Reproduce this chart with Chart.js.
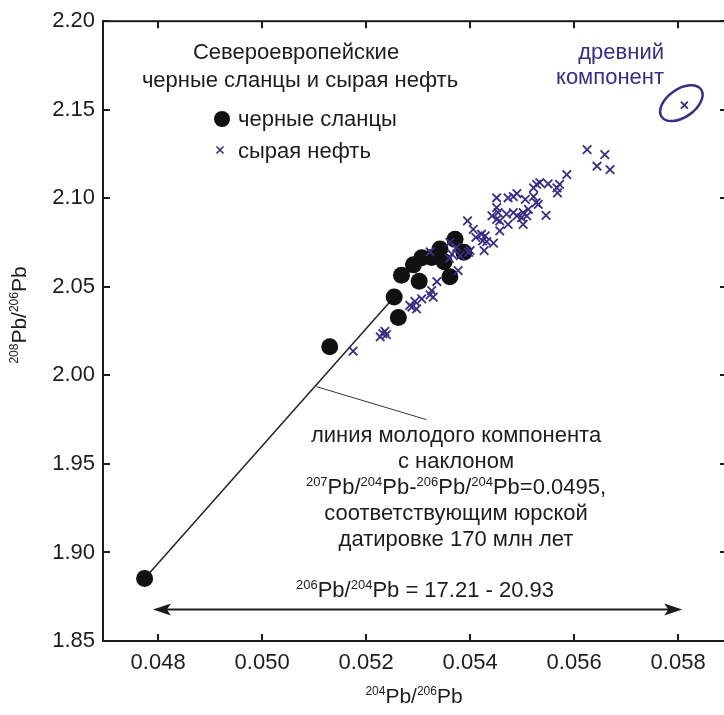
<!DOCTYPE html>
<html lang="ru">
<head>
<meta charset="UTF-8">
<title>208Pb/206Pb - 204Pb/206Pb</title>
<script src="https://cdn.jsdelivr.net/npm/chart.js"></script>
<style>
  html, body { margin: 0; padding: 0; background: #fff; overflow: hidden; }
  #wrap { width: 740px; height: 715px; }
</style>
</head>
<body>
<div id="wrap"><canvas id="pbChart" width="740" height="715"></canvas></div>
<script>
// черные сланцы: 204Pb/206Pb и 208Pb/206Pb
const shaleX = [0.04774, 0.05130, 0.05254, 0.05262, 0.05268, 0.05302, 0.05291, 0.05307,
                0.05326, 0.05342, 0.05350, 0.05361, 0.05371, 0.05388];
const shaleY = [1.8853, 2.0161, 2.0442, 2.0327, 2.0565, 2.0532, 2.0624, 2.0664,
                2.0666, 2.0714, 2.0641, 2.0557, 2.0768, 2.0695];

// сырая нефть
const oilX = [0.05586, 0.05534, 0.05550, 0.05522, 0.05528, 0.05572, 0.05567, 0.05568,
              0.05451, 0.05473, 0.05483, 0.05490, 0.05506, 0.05522, 0.05527, 0.05531,
              0.05451, 0.05442, 0.05451, 0.05457, 0.05454, 0.05470, 0.05483, 0.05473,
              0.05490, 0.05502, 0.05509, 0.05499, 0.05502, 0.05512, 0.05546, 0.05457,
              0.05395, 0.05406, 0.05411, 0.05422, 0.05429, 0.05424, 0.05432, 0.05445,
              0.05427, 0.05397, 0.05400, 0.05361, 0.05374, 0.05365, 0.05323, 0.05360,
              0.05381, 0.05377, 0.05336, 0.05326, 0.05323, 0.05329, 0.05307, 0.05294,
              0.05284, 0.05297, 0.05288, 0.05236, 0.05239, 0.05227, 0.05232, 0.05175,
              0.05625, 0.05659, 0.05644, 0.05669];
const oilY = [2.1134, 2.1088, 2.1082, 2.1059, 2.1078, 2.1078, 2.1059, 2.1031,
              2.1003, 2.1003, 2.1009, 2.1027, 2.0994, 2.1009, 2.0975, 2.0966,
              2.0947, 2.0901, 2.0881, 2.0872, 2.0919, 2.0910, 2.0919, 2.0853,
              2.0901, 2.0919, 2.0901, 2.0891, 2.0853, 2.0938, 2.0904, 2.0816,
              2.0872, 2.0825, 2.0779, 2.0797, 2.0788, 2.0760, 2.0755, 2.0747,
              2.0704, 2.0695, 2.0704, 2.0751, 2.0723, 2.0685, 2.0698, 2.0661,
              2.0676, 2.0592, 2.0530, 2.0479, 2.0455, 2.0442, 2.0432, 2.0418,
              2.0395, 2.0376, 2.0386, 2.0249, 2.0230, 2.0217, 2.0236, 2.0137,
              2.1275, 2.1246, 2.1181, 2.1162];

// древний компонент
const oldX = [0.05812];
const oldY = [2.1526];

// линия молодого компонента (от нижнего сланца)
const youngX = [0.04774, 0.05254];
const youngY = [1.8853, 2.0442];

const xTicks = [0.048, 0.050, 0.052, 0.054, 0.056, 0.058];
const yTicks = [1.85, 1.90, 1.95, 2.00, 2.05, 2.10, 2.15, 2.20];
const seriesNames = ['черные сланцы', 'сырая нефть'];

const FONT = '"Liberation Sans", Arial, sans-serif';
const INK = '#1c1c1c';
const PURPLE = '#3b2c84';

function pts(xs, ys) { return xs.map((x, i) => ({ x: x, y: ys[i] })); }

// text with ^123 superscripts
function drawRich(ctx, str, x, y, size, align, color) {
  const parts = [];
  str.split(/(\^\d+)/).forEach(s => {
    if (!s) return;
    if (s[0] === '^') parts.push({ t: s.slice(1), sup: true });
    else parts.push({ t: s, sup: false });
  });
  const big = size + 'px ' + FONT;
  const small = Math.round(size * 0.58) + 'px ' + FONT;
  let w = 0;
  parts.forEach(p => { ctx.font = p.sup ? small : big; p.w = ctx.measureText(p.t).width; w += p.w; });
  let cx = align === 'center' ? x - w / 2 : (align === 'right' ? x - w : x);
  ctx.fillStyle = color;
  ctx.textAlign = 'left';
  ctx.textBaseline = 'middle';
  parts.forEach(p => {
    ctx.font = p.sup ? small : big;
    ctx.fillText(p.t, cx, p.sup ? y - size * 0.27 : y);
    cx += p.w;
  });
}

function drawCross(ctx, x, y, r, color, lw) {
  ctx.save();
  ctx.strokeStyle = color;
  ctx.lineWidth = lw;
  ctx.beginPath();
  ctx.moveTo(x - r, y - r); ctx.lineTo(x + r, y + r);
  ctx.moveTo(x - r, y + r); ctx.lineTo(x + r, y - r);
  ctx.stroke();
  ctx.restore();
}

const decorations = {
  id: 'decorations',
  afterDraw(chart) {
    const ctx = chart.ctx;
    const a = chart.chartArea;
    const sx = chart.scales.x, sy = chart.scales.y;
    ctx.save();

    // frame and inward ticks
    ctx.strokeStyle = INK;
    ctx.lineWidth = 2;
    ctx.strokeRect(a.left, a.top, a.right - a.left, a.bottom - a.top);
    ctx.beginPath();
    xTicks.forEach(v => {
      const px = Math.round(sx.getPixelForValue(v));
      ctx.moveTo(px, a.bottom); ctx.lineTo(px, a.bottom - 7);
      ctx.moveTo(px, a.top); ctx.lineTo(px, a.top + 7);
    });
    yTicks.forEach(v => {
      const py = Math.round(sy.getPixelForValue(v));
      ctx.moveTo(a.left, py); ctx.lineTo(a.left + 7, py);
      ctx.moveTo(a.right, py); ctx.lineTo(a.right - 7, py);
    });
    ctx.stroke();

    // legend
    drawRich(ctx, 'Североевропейские', 296, 53, 22, 'center', INK);
    drawRich(ctx, 'черные сланцы и сырая нефть', 300, 81, 22, 'center', INK);
    ctx.fillStyle = '#111';
    ctx.beginPath(); ctx.arc(222, 119, 8, 0, Math.PI * 2); ctx.fill();
    drawRich(ctx, seriesNames[0], 238, 120, 22, 'left', INK);
    drawCross(ctx, 220, 150, 3.5, PURPLE, 1.6);
    drawRich(ctx, seriesNames[1], 238, 152, 22, 'left', INK);

    // ancient component
    drawRich(ctx, 'древний', 664, 53, 22, 'right', PURPLE);
    drawRich(ctx, 'компонент', 664, 78, 22, 'right', PURPLE);
    const ox = sx.getPixelForValue(oldX[0]), oy = sy.getPixelForValue(oldY[0]);
    ctx.strokeStyle = PURPLE;
    ctx.lineWidth = 2.5;
    ctx.beginPath();
    ctx.ellipse(ox - 3, oy - 2, 24, 14, -35 * Math.PI / 180, 0, Math.PI * 2);
    ctx.stroke();

    // leader line to the young component line
    ctx.strokeStyle = '#333';
    ctx.lineWidth = 1;
    ctx.beginPath();
    ctx.moveTo(sx.getPixelForValue(0.05105), sy.getPixelForValue(1.9936));
    ctx.lineTo(sx.getPixelForValue(0.05316), sy.getPixelForValue(1.9750));
    ctx.stroke();

    const tx = 456;
    drawRich(ctx, 'линия молодого компонента', tx, 436, 22, 'center', INK);
    drawRich(ctx, 'с наклоном', tx, 462, 22, 'center', INK);
    drawRich(ctx, '^207Pb/^204Pb-^206Pb/^204Pb=0.0495,', tx, 488, 22, 'center', INK);
    drawRich(ctx, 'соответствующим юрской', tx, 514, 22, 'center', INK);
    drawRich(ctx, 'датировке 170 млн лет', tx, 540, 22, 'center', INK);

    // 206Pb/204Pb range arrow
    const ax1 = sx.getPixelForValue(0.04790), ax2 = sx.getPixelForValue(0.05808);
    const ay = sy.getPixelForValue(1.8678);
    ctx.strokeStyle = INK;
    ctx.fillStyle = INK;
    ctx.lineWidth = 2;
    ctx.beginPath(); ctx.moveTo(ax1 + 10, ay); ctx.lineTo(ax2 - 10, ay); ctx.stroke();
    ctx.beginPath(); ctx.moveTo(ax1, ay); ctx.lineTo(ax1 + 18, ay - 6); ctx.lineTo(ax1 + 14, ay); ctx.lineTo(ax1 + 18, ay + 6); ctx.closePath(); ctx.fill();
    ctx.beginPath(); ctx.moveTo(ax2, ay); ctx.lineTo(ax2 - 18, ay - 6); ctx.lineTo(ax2 - 14, ay); ctx.lineTo(ax2 - 18, ay + 6); ctx.closePath(); ctx.fill();
    drawRich(ctx, '^206Pb/^204Pb = 17.21 - 20.93', 425, 591, 22, 'center', INK);

    // axis titles
    drawRich(ctx, '^204Pb/^206Pb', 414, 697, 21, 'center', INK);
    ctx.translate(20, 315);
    ctx.rotate(-Math.PI / 2);
    drawRich(ctx, '^208Pb/^206Pb', 0, 0, 21, 'center', INK);
    ctx.restore();
  }
};

new Chart(document.getElementById('pbChart'), {
  type: 'scatter',
  data: {
    datasets: [
      {
        label: seriesNames[1],
        data: pts(oilX, oilY),
        pointStyle: 'crossRot',
        pointRadius: 6,
        borderColor: PURPLE,
        borderWidth: 1.8,
        order: 1
      },
      {
        label: 'древний компонент',
        data: pts(oldX, oldY),
        pointStyle: 'crossRot',
        pointRadius: 5,
        borderColor: PURPLE,
        borderWidth: 1.8,
        order: 1
      },
      {
        label: seriesNames[0],
        data: pts(shaleX, shaleY),
        pointStyle: 'circle',
        pointRadius: 8.5,
        backgroundColor: '#111',
        borderColor: '#111',
        borderWidth: 0,
        order: 2
      },
      {
        label: 'линия молодого компонента',
        data: pts(youngX, youngY),
        showLine: true,
        pointRadius: 0,
        borderColor: '#222',
        borderWidth: 1.5,
        order: 3
      }
    ]
  },
  options: {
    responsive: false,
    animation: false,
    layout: { padding: { top: 17, right: 13, left: 0, bottom: 0 } },
    plugins: { legend: { display: false }, tooltip: { enabled: false } },
    scales: {
      x: {
        type: 'linear',
        min: 0.04694,
        max: 0.05894,
        grid: { display: false, drawTicks: false },
        border: { display: false },
        afterBuildTicks: s => { s.ticks = xTicks.map(v => ({ value: v })); },
        afterFit: s => { s.height = 74; },
        ticks: {
          padding: 9,
          color: INK,
          font: { family: FONT, size: 22 },
          callback: v => v.toFixed(3)
        }
      },
      y: {
        min: 1.85,
        max: 2.20,
        grid: { display: false, drawTicks: false },
        border: { display: false },
        afterBuildTicks: s => { s.ticks = yTicks.map(v => ({ value: v })); },
        afterFit: s => { s.width = 103; },
        ticks: {
          padding: 8,
          color: INK,
          font: { family: FONT, size: 22 },
          callback: v => v.toFixed(2)
        }
      }
    }
  },
  plugins: [decorations]
});
</script>
</body>
</html>
